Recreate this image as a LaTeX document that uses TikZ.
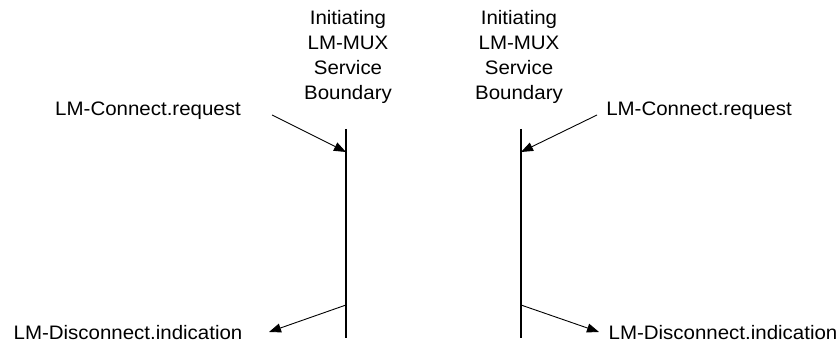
\documentclass[tikz,border=0pt]{standalone}
\usepackage{fontspec}
\setmainfont[FakeStretch=1.05]{Liberation Sans}
\usetikzlibrary{arrows.meta}
\newcommand{\textbound}{Initiating\\LM-MUX\\Service\\Boundary}
\newcommand{\textreq}{LM-Connect.request}
\newcommand{\textind}{LM-Disconnect.indication}

\begin{document}
\begin{tikzpicture}[x=1pt,y=-1pt,
    any/.style={inner sep=0pt,outer sep=0pt,font=\fontsize{19.5}{25}\selectfont},
    header/.style={any,align=center},
    boundary/.style={line width=2pt},
    prim/.style={line width=0.9pt,-{Triangle[length=12pt,width=9pt]}}
]
\useasboundingbox (0,0) rectangle (840,344);

% left side
\node[header] (headL) at (348,57) {\textbound};
\coordinate (topL) at (346,129);
\coordinate (botL) at (346,338);
\draw[boundary] (topL) -- (botL);
\node[any] (reqL) at (148,111) {\textreq};
\node[any] (indL) at (128,333) {\textind};
\coordinate (reqLs) at (272,115);
\coordinate (reqLe) at (346,152);
\coordinate (indLs) at (346,305);
\coordinate (indLe) at (269,332);
\draw[prim] (reqLs) -- (reqLe);
\draw[prim] (indLs) -- (indLe);

% right side
\node[header] (headR) at (519,57) {\textbound};
\coordinate (topR) at (521,129);
\coordinate (botR) at (521,338);
\draw[boundary] (topR) -- (botR);
\node[any] (reqR) at (699,111) {\textreq};
\node[any] (indR) at (723,333) {\textind};
\coordinate (reqRs) at (597,115);
\coordinate (reqRe) at (521,152);
\coordinate (indRs) at (521,305);
\coordinate (indRe) at (599,332);
\draw[prim] (reqRs) -- (reqRe);
\draw[prim] (indRs) -- (indRe);
\end{tikzpicture}
\end{document}
